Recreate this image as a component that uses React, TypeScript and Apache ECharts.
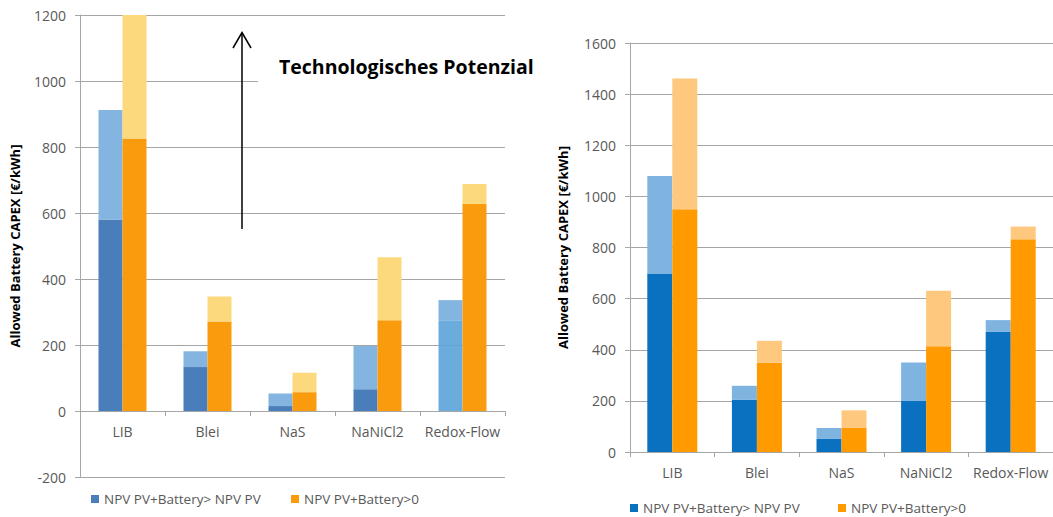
import React, { useEffect, useRef } from "react";
import * as echarts from "echarts";

const categories = ["LIB", "Blei", "NaS", "NaNiCl2", "Redox-Flow"];

// Left chart values (€/kWh)
const leftBlueLow = [580, 133, 15, 66, 275];
const leftBlueHigh = [912, 181, 53, 197, 336];
const leftOrangeLow = [826, 271, 57, 275, 627];
const leftOrangeHigh = [1200, 347, 116, 466, 688];

// Right chart values (€/kWh)
const rightBlueLow = [696, 204, 51, 201, 470];
const rightBlueHigh = [1080, 259, 94, 350, 516];
const rightOrangeLow = [950, 349, 94, 414, 832];
const rightOrangeHigh = [1461, 435, 163, 631, 882];

const leftTicks = { min: -200, max: 1200, interval: 200 };
const rightTicks = { min: 0, max: 1600, interval: 200 };

const blueName = "NPV PV+Battery> NPV PV";
const orangeName = "NPV PV+Battery>0";
const yName = "Allowed Battery CAPEX [€/kWh]";
const annotation = "Technologisches Potenzial";

const FONT = "Open Sans";
const GRID_COLOR = "#a6a6a6";
const LABEL_COLOR = "#595959";

type Cfg = {
  blueLow: number[];
  blueHigh: number[];
  orangeLow: number[];
  orangeHigh: number[];
  colors: { blue: string; blueLight: string; orange: string; orangeLight: string };
  ticks: { min: number; max: number; interval: number };
  grid: { left: number; top: number; width: number; height: number };
  xOffset: number;
  barWidth: number;
  nameGap: number;
  legendLeft: [number, number];
  legendTop: number;
  specialBlue?: { index: number; color: string };
  graphic?: any[];
};

function makeOption(c: Cfg): any {
  const blueLowData = c.blueLow.map((v, i) =>
    c.specialBlue && c.specialBlue.index === i
      ? { value: v, itemStyle: { color: c.specialBlue.color, opacity: 0.92 } }
      : v
  );
  const axisLineStyle = { color: GRID_COLOR, width: 1 };
  const legendText = { color: LABEL_COLOR, fontSize: 13.5, fontFamily: FONT };
  return {
    animation: false,
    textStyle: { fontFamily: FONT },
    grid: { ...c.grid, containLabel: false },
    legend: [
      {
        data: [{ name: blueName, itemStyle: { color: c.colors.blue } }],
        left: c.legendLeft[0],
        top: c.legendTop,
        icon: "rect",
        itemWidth: 8,
        itemHeight: 8,
        selectedMode: false,
        textStyle: legendText,
      },
      {
        data: [{ name: orangeName, itemStyle: { color: c.colors.orange } }],
        left: c.legendLeft[1],
        top: c.legendTop,
        icon: "rect",
        itemWidth: 8,
        itemHeight: 8,
        selectedMode: false,
        textStyle: legendText,
      },
    ],
    xAxis: {
      type: "category",
      data: categories,
      position: "bottom",
      offset: c.xOffset,
      axisLine: { show: true, onZero: false, lineStyle: axisLineStyle },
      axisTick: { show: true, length: 5, alignWithLabel: false, lineStyle: axisLineStyle },
      axisLabel: { color: LABEL_COLOR, fontSize: 14, margin: 13, interval: 0, fontFamily: FONT },
      splitLine: { show: false },
    },
    yAxis: {
      type: "value",
      min: c.ticks.min,
      max: c.ticks.max,
      interval: c.ticks.interval,
      name: yName,
      nameLocation: "middle",
      nameGap: c.nameGap,
      nameRotate: 90,
      nameTextStyle: { color: "#000", fontSize: 13, fontWeight: "bold", fontFamily: FONT },
      axisLine: { show: true, lineStyle: axisLineStyle },
      axisTick: { show: true, length: 5, lineStyle: axisLineStyle },
      axisLabel: {
        color: LABEL_COLOR,
        fontSize: 14,
        margin: 14,
        fontFamily: FONT,
        formatter: (v: number) => String(v),
      },
      splitLine: { show: true, lineStyle: { color: GRID_COLOR, width: 1 } },
    },
    series: [
      {
        name: blueName,
        type: "bar",
        stack: "blue",
        barWidth: c.barWidth,
        barGap: "0%",
        itemStyle: { color: c.colors.blue },
        data: blueLowData,
      },
      {
        name: "blueUpper",
        type: "bar",
        stack: "blue",
        barWidth: c.barWidth,
        barGap: "0%",
        itemStyle: { color: c.colors.blueLight },
        data: c.blueHigh.map((v, i) => v - c.blueLow[i]),
      },
      {
        name: orangeName,
        type: "bar",
        stack: "orange",
        barWidth: c.barWidth,
        barGap: "0%",
        itemStyle: { color: c.colors.orange },
        data: c.orangeLow,
      },
      {
        name: "orangeUpper",
        type: "bar",
        stack: "orange",
        barWidth: c.barWidth,
        barGap: "0%",
        itemStyle: { color: c.colors.orangeLight },
        data: c.orangeHigh.map((v, i) => v - c.orangeLow[i]),
      },
    ],
    graphic: c.graphic || [],
  };
}

const leftCfg: Cfg = {
  blueLow: leftBlueLow,
  blueHigh: leftBlueHigh,
  orangeLow: leftOrangeLow,
  orangeHigh: leftOrangeHigh,
  colors: { blue: "#4a7ebb", blueLight: "#84b5e0", orange: "#f99b0c", orangeLight: "#fdd97e" },
  ticks: leftTicks,
  grid: { left: 77, top: 15, width: 428, height: 462 },
  xOffset: -66,
  barWidth: 24,
  nameGap: 59,
  legendLeft: [86, 286],
  legendTop: 487,
  specialBlue: { index: 4, color: "#5fa5da" },
  graphic: [
    {
      type: "rect",
      z: 100,
      shape: { x: 258, y: 48, width: 290, height: 46 },
      style: { fill: "#ffffff" },
    },
    {
      type: "line",
      z: 101,
      shape: { x1: 242, y1: 229, x2: 242, y2: 33 },
      style: { stroke: "#000", lineWidth: 1.5 },
    },
    {
      type: "polyline",
      z: 101,
      shape: { points: [[233, 48], [242, 32.5], [251, 48]] },
      style: { stroke: "#000", lineWidth: 1.5, fill: null },
    },
    {
      type: "text",
      z: 102,
      x: 279,
      y: 66,
      style: {
        text: annotation,
        fill: "#000",
        font: "bold 19.5px 'Open Sans'",
        verticalAlign: "middle",
        align: "left",
      },
    },
  ],
};

const rightCfg: Cfg = {
  blueLow: rightBlueLow,
  blueHigh: rightBlueHigh,
  orangeLow: rightOrangeLow,
  orangeHigh: rightOrangeHigh,
  colors: { blue: "#0a70c0", blueLight: "#80b4e0", orange: "#ff9a00", orangeLight: "#fec97f" },
  ticks: rightTicks,
  grid: { left: 65, top: 43, width: 441, height: 409 },
  xOffset: 0,
  barWidth: 25,
  nameGap: 61,
  legendLeft: [77, 285],
  legendTop: 496,
};

function ChartBox({ cfg, style }: { cfg: Cfg; style: React.CSSProperties }) {
  const ref = useRef<HTMLDivElement>(null);
  useEffect(() => {
    if (!ref.current) return;
    const chart = echarts.init(ref.current, undefined, { renderer: "svg" });
    chart.setOption(makeOption(cfg));
    return () => chart.dispose();
  }, [cfg]);
  return <div ref={ref} style={style} />;
}

export default function App() {
  return (
    <div
      style={{
        position: "fixed",
        left: 0,
        top: 0,
        width: 1053,
        height: 517,
        background: "#ffffff",
        overflow: "hidden",
      }}
    >
      <ChartBox
        cfg={leftCfg}
        style={{ position: "absolute", left: 0, top: 0, width: 548, height: 517 }}
      />
      <ChartBox
        cfg={rightCfg}
        style={{ position: "absolute", left: 548, top: 0, width: 505, height: 517 }}
      />
    </div>
  );
}
